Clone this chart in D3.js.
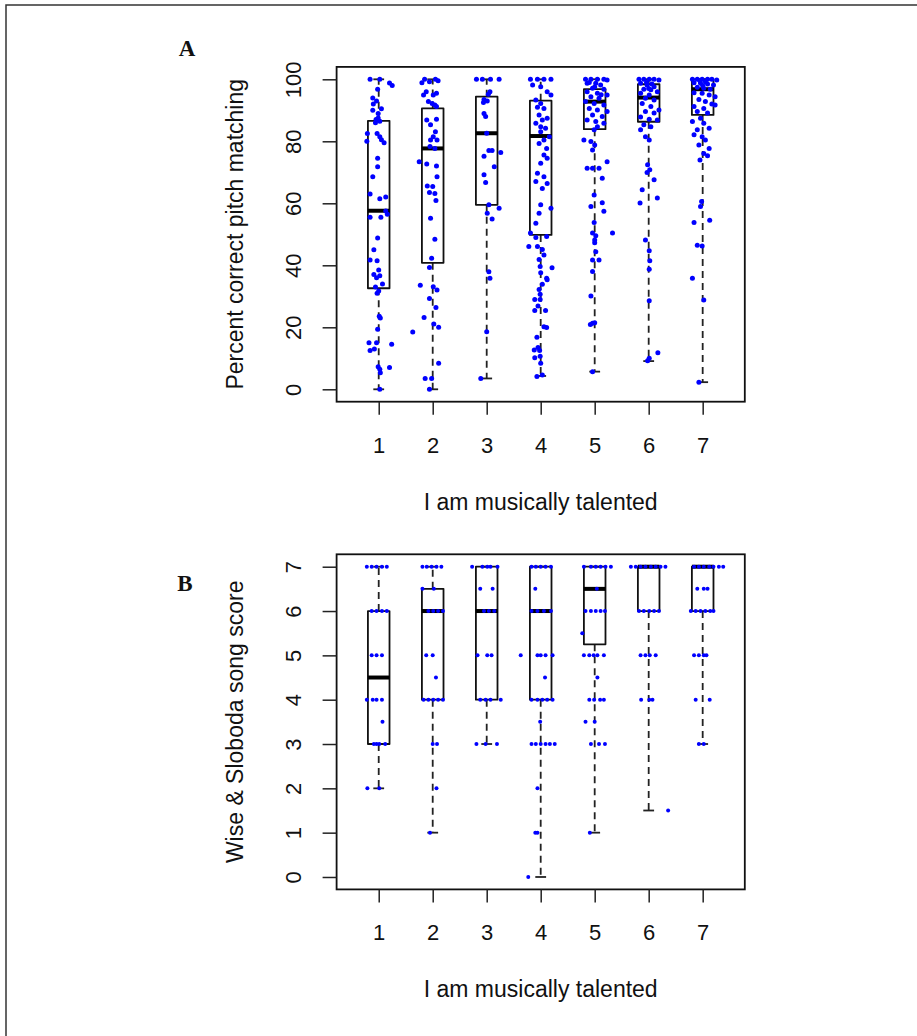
<!DOCTYPE html>
<html><head><meta charset="utf-8">
<script src="https://cdn.jsdelivr.net/npm/d3@7"></script>
<style>html,body{margin:0;padding:0;background:#fff;}</style>
</head><body>
<svg id="chart" width="917" height="1036"></svg>
<script>
// ---------------- DATA ----------------
const categories = [1, 2, 3, 4, 5, 6, 7];
const xTickLabels = ["1", "2", "3", "4", "5", "6", "7"];
const xAxisTitle = "I am musically talented";
const yTitleA = "Percent correct pitch matching";
const yTitleB = "Wise & Sloboda song score";
const yTicksA = [0, 20, 40, 60, 80, 100];
const yTicksB = [0, 1, 2, 3, 4, 5, 6, 7];

// [lower whisker, Q1, median, Q3, upper whisker]
const pitchBoxes = [
  [0, 32.6, 57.6, 86.6, 100],
  [0, 40.8, 77.7, 90.6, 100],
  [3.5, 59.5, 82.6, 94.4, 100],
  [4.3, 49.8, 81.7, 93.1, 100],
  [5.7, 83.9, 92.8, 96.8, 100],
  [9.1, 86.3, 94.1, 98.4, 100],
  [2.3, 88.5, 96.8, 100, 100]
];
const songBoxes = [
  [2, 3, 4.5, 6, 7],
  [1, 4, 6, 6.5, 7],
  [3, 4, 6, 7, 7],
  [0, 4, 6, 7, 7],
  [1, 5.25, 6.5, 7, 7],
  [1.5, 6, 7, 7, 7],
  [3, 6, 7, 7, 7]
];

// jittered points: [category position, value]
const pitchPoints = [
  // group 1
  [0.84,100],[1.02,100],[1.2,98.8],[1.25,98],[0.98,96.8],[0.89,94],[0.96,93],[0.9,92],[0.89,90],[1.05,90.5],
  [0.99,89],[0.99,87.5],[0.95,87],[1.02,86.5],[0.94,86],[0.79,82.5],[0.97,82.5],[1.02,81.5],[0.78,80],[1.05,80.5],
  [1.1,79.5],[0.98,74.5],[0.98,71.8],[0.89,68.6],[0.84,63],[1.02,61.5],[1.13,62],[1.13,57.5],[1.16,56.5],[0.84,55.5],
  [1.04,55.5],[0.98,48.8],[0.91,45],[0.84,41.7],[0.97,41.5],[1.0,38.5],[0.91,37],[1.02,36.6],[0.96,36],[1.07,34],
  [0.94,33],[1.0,31.7],[0.97,31],[1.01,23.6],[1.03,23],[0.98,19.4],[0.82,15],[0.96,15],[1.24,14.5],[0.92,13],
  [0.84,12.5],[0.99,7.3],[1.2,7],[1.02,6.5],[1.03,5.3],[1.02,0],
  // group 2
  [1.8,98.9],[1.94,99.2],[1.88,96],[1.83,94.9],[2.01,94.9],[2.07,95.5],[1.92,92.8],[1.99,92.2],[2.04,91.7],[2.07,91.2],
  [1.89,86.9],[2.07,87.1],[1.96,85.3],[2.05,83.1],[2.01,81.5],[1.96,80.4],[2.08,80.4],[1.95,78.3],[2.04,77.7],[1.75,73.4],
  [1.89,72.7],[2.07,72],[2.08,68.6],[1.9,65.6],[2.0,65.4],[1.94,63.5],[2.04,63.2],[2.06,60.9],[1.96,55.2],[2.04,48.4],
  [1.98,42.3],[1.94,39.3],[1.77,33.6],[2.01,33.1],[2.08,32],[1.94,29.3],[2.06,26.4],[1.84,23.2],[2.02,21.1],[2.11,20],
  [1.63,18.5],[2.11,8.4],[1.86,3.5],[1.98,3.5],[1.94,0],[1.85,100],[2.05,100],[2.1,99.5],
  // group 3
  [2.81,100],[2.92,100],[3.07,100],[3.23,100],[3.06,96],[3.03,95.2],[2.95,93.5],[3.01,93],[2.94,92.5],[2.95,89],
  [2.98,88],[3.0,82.6],[3.04,77],[3.1,77],[3.26,76.4],[2.95,75.2],[3.14,71.8],[2.95,69.2],[2.98,66.7],[3.04,59.5],
  [3.23,58.4],[3.01,56.8],[3.1,54.9],[3.04,37.9],[3.06,35.8],[3.0,18.6],[2.89,3.5],
  // group 4
  [3.81,100],[3.94,100],[4.06,100],[4.19,100],[3.85,98.2],[4.0,97.6],[4.12,96],[4.19,94.9],[3.91,93.3],[4.0,92.2],
  [3.94,91],[4.06,90.6],[3.97,88.5],[4.12,87.4],[4.03,86.9],[3.91,85.8],[4.0,84.7],[4.09,84.2],[4.0,83.1],[4.16,81.5],
  [4.06,80.4],[3.97,79.3],[4.11,77.7],[4.06,75.6],[4.12,74.5],[4.0,72.9],[3.94,69.7],[4.06,68.6],[3.91,67],[4.12,66.4],
  [4.03,64.8],[4.0,59.5],[4.19,58.4],[3.97,56.8],[3.91,53.6],[3.81,50.4],[4.11,49.3],[3.78,46.1],[3.94,46.1],[3.91,49],
  [4.03,45.1],[4.06,43.3],[3.97,41.9],[3.99,39.6],[4.21,39.2],[4.0,37.6],[4.11,35.8],[4.12,35.3],[4.03,33.9],[3.97,32.2],
  [3.99,30.7],[3.89,29],[3.99,29],[3.95,26.9],[3.89,25.4],[4.09,25.4],[4.06,20.2],[4.11,19.9],[3.93,16.8],[3.95,13.5],
  [3.88,12.7],[3.98,12.5],[3.89,10.2],[3.99,10.7],[4.0,8.4],[3.93,4.1],[4.03,4.6],
  // group 5
  [4.83,100],[4.93,100],[5.05,100],[5.17,100],[5.23,99.8],[4.86,98.7],[5.02,98.7],[5.11,98.2],[4.96,97.1],[5.17,96.8],
  [4.86,96],[5.05,95.5],[5.23,94.9],[4.93,94.4],[5.08,93.9],[4.83,92.8],[4.99,92.2],[5.17,91.7],[4.9,90.6],[5.05,90.1],
  [5.23,89.6],[4.96,88.5],[5.14,88],[4.86,86.9],[5.02,86.4],[5.17,85.8],[5.05,84.7],[4.99,83.7],[4.8,80.4],[4.93,79.9],
  [5.0,78.8],[4.96,77.2],[5.23,73.4],[4.86,71.3],[4.96,71.3],[5.08,71.3],[5.14,68.1],[4.99,62.7],[5.14,60.2],[4.93,59],
  [5.17,57.4],[4.99,53.8],[5.33,50.4],[4.96,50.4],[5.0,48.2],[5.02,49.5],[5.0,47.3],[5.02,44.4],[4.96,41.7],[5.08,41.7],
  [4.96,38],[4.93,30.1],[4.92,20.9],[4.96,21.3],[5.0,21.5],[4.96,5.7],[4.9,99],[5.0,97.5],[5.12,95],
  // group 6
  [5.82,100],[5.91,100],[6.01,100],[6.1,100],[6.19,99.8],[5.85,98.7],[5.97,98.2],[6.1,97.6],[5.91,96.8],[6.04,96.6],
  [6.16,96],[5.85,95.5],[6.01,94.9],[5.94,93.9],[6.1,93.3],[5.88,92.2],[6.04,91.2],[6.19,90.1],[5.94,89.6],[6.1,89.1],
  [5.85,87.8],[6.01,87.1],[6.16,86.9],[5.91,85.3],[6.04,84.7],[5.85,83.7],[5.94,81.5],[6.01,80.4],[5.98,72.4],[6.02,70.8],
  [5.97,69.9],[6.1,67.6],[5.88,64.4],[6.16,61.7],[5.84,60.1],[5.94,48.2],[6.01,44.7],[6.02,41.5],[6.01,38.7],[6.01,28.6],
  [6.17,11.8],[6.01,10],[5.98,9.2],[5.96,99],[6.06,98.5],[6.0,97],
  // group 7
  [6.81,100],[6.9,100],[6.99,100],[7.09,100],[7.17,100],[7.26,99.8],[6.84,98.9],[6.96,98.7],[7.09,98.5],[7.2,98.2],
  [6.9,97.4],[7.02,97.1],[7.14,96.8],[6.84,95.7],[6.99,95.5],[7.12,94.9],[7.23,94.4],[6.93,93.5],[7.05,92.8],[7.17,92],
  [6.84,91.2],[7.02,90.6],[7.23,91.7],[6.9,89.6],[7.09,89.1],[6.96,87.4],[6.81,86.4],[7.02,85.8],[7.12,84.2],[6.9,83.7],
  [6.84,82.1],[6.99,81.5],[7.05,80.4],[6.93,78.8],[7.12,77.7],[7.02,76.1],[7.09,75.3],[6.95,74],[6.98,60.6],[6.96,59],
  [6.84,53.8],[7.13,54.5],[6.9,46.5],[6.99,46.2],[6.81,35.8],[7.02,28.8],[6.93,2.3],[6.95,99.5],[7.05,99.2],[7.0,98]
];

const songPoints = [
  // group 1
  [0.78,7],[0.87,7],[0.96,7],[1.06,7],[1.15,7],[0.87,6],[0.96,6],[1.06,6],[1.15,6],[0.87,5],[0.96,5],[1.06,5],
  [0.78,4],[0.89,4],[0.96,4],[1.06,4],[1.07,3.5],[0.91,3],[0.96,3],[1.01,3],[1.12,3],[0.79,2],[1.01,2],
  // group 2
  [1.81,7],[1.89,7],[1.98,7],[2.07,7],[2.16,7],[1.81,6.5],[2.02,6.5],[1.92,6],[2.01,6],[2.1,6],[2.19,6],[1.88,5],
  [2.0,5],[2.06,4.5],[1.83,4],[1.92,4],[2.01,4],[2.1,4],[2.19,4],[2.0,3],[2.08,3],[2.07,2],[1.95,1],
  // group 3
  [2.73,7],[2.92,7],[3.01,7],[3.07,7],[3.2,7],[2.88,6.5],[3.11,6.5],[2.95,6],[3.04,6],[3.14,6],[2.83,5],[3.01,5],
  [3.09,5],[2.88,4],[2.98,4],[3.07,4],[3.26,4],[2.81,3],[2.98,3],[3.19,3],
  // group 4
  [3.83,7],[3.91,7],[4.0,7],[4.09,7],[4.19,7],[3.9,6.5],[3.83,6],[3.94,6],[4.06,6],[4.19,6],[3.63,5],[3.94,5],
  [4.0,5],[4.09,5],[4.22,5],[4.08,4.5],[3.83,4],[3.94,4],[4.03,4],[4.12,4],[4.22,4],[3.99,3.5],[3.83,3],[3.91,3],
  [4.0,3],[4.09,3],[4.17,3],[4.26,3],[3.94,2],[3.9,1],[3.94,1],[3.77,0],
  // group 5
  [4.8,7],[4.93,7],[5.02,7],[5.11,7],[5.2,7],[5.3,7],[5.04,6.5],[4.83,6],[4.93,6],[5.02,6],[5.11,6],[5.19,6],
  [4.77,5.5],[4.8,5],[4.9,5],[4.98,5],[5.05,5],[5.17,5],[5.05,4.5],[4.9,4],[4.99,4],[5.1,4],[5.17,4],[4.83,3.5],
  [5.0,3.5],[4.93,3],[5.08,3],[5.19,3],[4.91,1],
  // group 6
  [5.67,7],[5.76,7],[5.85,7],[5.94,7],[6.04,7],[6.13,7],[6.22,7],[6.31,7],[5.82,6],[5.91,6],[6.01,6],[6.1,6],
  [6.19,6],[5.85,5],[5.94,5],[6.02,5],[6.13,5],[5.86,4],[6.01,4],[6.07,4],[6.36,1.5],
  // group 7
  [6.84,7],[6.93,7],[7.02,7],[7.12,7],[7.2,7],[7.3,7],[7.38,7],[6.9,6.5],[7.02,6.5],[7.09,6.5],[6.78,6],[6.87,6],
  [6.96,6],[7.05,6],[7.14,6],[7.2,6],[6.84,5],[6.93,5],[7.02,5],[7.07,5],[6.87,4],[7.13,4],[6.93,3],[7.02,3]
];

// ---------------- DRAWING ----------------
const svg = d3.select("#chart");
const FONT = "'Liberation Sans', Arial, Helvetica, sans-serif";
const FS = 22;

// outer frame (top and left edges)
svg.append("path")
  .attr("d", "M6,1036 L6,5 L917,5")
  .attr("fill", "none").attr("stroke", "#333").attr("stroke-width", 1.5);

const x = d3.scaleLinear().domain([0.22, 7.78]).range([336.6, 744.8]);
const boxW = x(1.4) - x(1);       // 0.8 units (boxwex)
const capW = x(1.2) - x(1);       // staple half the box width

function panel(opts) {
  const { y, ticks, boxes, points, yTitle, label, labelPos, top, bottom, r } = opts;
  const g = svg.append("g");

  boxes.forEach((b, i) => {
    const cx = x(categories[i]);
    const [lw, q1, med, q3, uw] = b;
    g.append("line").attr("x1", cx).attr("x2", cx).attr("y1", y(q3)).attr("y2", y(uw))
      .attr("stroke", "#222").attr("stroke-width", 1.8).attr("stroke-dasharray", "7,5");
    g.append("line").attr("x1", cx).attr("x2", cx).attr("y1", y(q1)).attr("y2", y(lw))
      .attr("stroke", "#222").attr("stroke-width", 1.8).attr("stroke-dasharray", "7,5");
    [lw, uw].forEach(v => {
      g.append("line").attr("x1", cx - capW / 2).attr("x2", cx + capW / 2)
        .attr("y1", y(v)).attr("y2", y(v)).attr("stroke", "#222").attr("stroke-width", 1.8);
    });
    g.append("rect").attr("x", cx - boxW / 2).attr("y", y(q3))
      .attr("width", boxW).attr("height", y(q1) - y(q3))
      .attr("fill", "none").attr("stroke", "#111").attr("stroke-width", 1.8)
      .attr("stroke-linejoin", "round");
    g.append("line").attr("x1", cx - boxW / 2).attr("x2", cx + boxW / 2)
      .attr("y1", y(med)).attr("y2", y(med)).attr("stroke", "#000").attr("stroke-width", 4);
  });

  g.selectAll("circle.pt").data(points).join("circle")
    .attr("class", "pt")
    .attr("cx", d => x(d[0])).attr("cy", d => y(d[1]))
    .attr("r", r).attr("fill", "#0000ff");

  g.append("rect").attr("x", x.range()[0]).attr("y", top)
    .attr("width", x.range()[1] - x.range()[0]).attr("height", bottom - top)
    .attr("fill", "none").attr("stroke", "#111").attr("stroke-width", 1.8);

  const ya = g.append("g").attr("transform", `translate(${x.range()[0]},0)`)
    .call(d3.axisLeft(y).tickValues(ticks).tickSize(14).tickFormat(d3.format("d")));
  ya.select(".domain").remove();
  ya.selectAll("line").attr("stroke", "#222").attr("stroke-width", 1.5);
  ya.selectAll("text")
    .attr("x", null).attr("dy", null)
    .attr("transform", "translate(-35.5,0) rotate(-90)")
    .attr("text-anchor", "middle")
    .attr("fill", "#111")
    .style("font-family", FONT).style("font-size", FS + "px");

  const xa = g.append("g").attr("transform", `translate(0,${bottom})`)
    .call(d3.axisBottom(x).tickValues(categories).tickSize(13)
      .tickFormat((d, i) => xTickLabels[i]));
  xa.select(".domain").remove();
  xa.selectAll("line").attr("stroke", "#222").attr("stroke-width", 1.5);
  xa.selectAll("text")
    .attr("y", 51).attr("dy", null)
    .attr("fill", "#111")
    .style("font-family", FONT).style("font-size", FS + "px");

  g.append("text")
    .attr("x", (x.range()[0] + x.range()[1]) / 2)
    .attr("y", bottom + 108)
    .attr("text-anchor", "middle")
    .attr("fill", "#111")
    .style("font-family", FONT).style("font-size", (FS + 1) + "px")
    .text(xAxisTitle);

  g.append("text")
    .attr("transform", `translate(242.5,${(top + bottom) / 2}) rotate(-90)`)
    .attr("text-anchor", "middle")
    .attr("fill", "#111")
    .style("font-family", FONT).style("font-size", (FS + 1) + "px")
    .text(yTitle);

  g.append("text")
    .attr("x", labelPos[0]).attr("y", labelPos[1])
    .attr("text-anchor", "middle")
    .attr("fill", "#111")
    .style("font-family", "'Liberation Serif', 'Times New Roman', serif")
    .style("font-weight", "bold").style("font-size", "23px")
    .text(label);
}

const yA = d3.scaleLinear().domain([-4, 104]).range([401.7, 66.9]);
panel({ y: yA, ticks: yTicksA, boxes: pitchBoxes, points: pitchPoints, yTitle: yTitleA,
  label: "A", labelPos: [187, 56], top: 66.9, bottom: 401.7, r: 2.5 });

const yB = d3.scaleLinear().domain([-0.28, 7.28]).range([889.4, 554.3]);
panel({ y: yB, ticks: yTicksB, boxes: songBoxes, points: songPoints, yTitle: yTitleB,
  label: "B", labelPos: [185, 591], top: 554.3, bottom: 889.4, r: 2.0 });
</script>
</body></html>
